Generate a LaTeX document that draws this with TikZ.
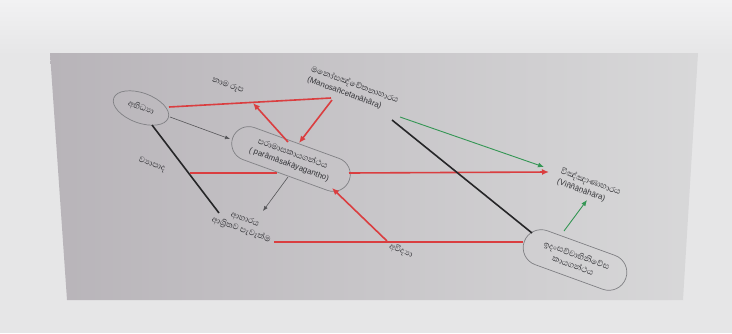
\documentclass[tikz,border=0pt]{standalone}
\usepackage{fontspec}
\setmainfont{Liberation Sans}
\newfontfamily\sinhalafont[Script=Sinhala,Scale=1.3]{Abhaya Libre}
\usetikzlibrary{arrows.meta,shapes.geometric,shapes.misc}
\definecolor{redc}{RGB}{218,62,64}
\definecolor{greenc}{RGB}{52,150,84}
\definecolor{blackc}{RGB}{38,38,40}
\definecolor{thinc}{RGB}{85,85,88}
\definecolor{edgec}{RGB}{128,128,132}
\definecolor{txtc}{RGB}{50,50,54}
\definecolor{outerbg}{RGB}{230,230,231}
\definecolor{outertop}{RGB}{242,242,243}
\definecolor{slideL}{RGB}{184,180,185}
\definecolor{slideM}{RGB}{206,205,207}
\definecolor{slideR}{RGB}{216,216,217}
\tikzset{
  lbl/.style={text=txtc, align=center, inner sep=1pt, rotate=-20,
    font=\fontsize{8}{11}\selectfont},
  bubble/.style={draw=edgec, line width=0.7pt, text=txtc, align=center,
    inner sep=1pt, font=\fontsize{8}{11}\selectfont},
  redline/.style={draw=redc, line width=1.6pt},
  redarrow/.style={redline, -{Latex[length=7pt,width=6pt]}},
  greenarrow/.style={draw=greenc, line width=0.9pt, -{Latex[length=6pt,width=5pt]}},
  blackline/.style={draw=blackc, line width=1.6pt},
  thinarrow/.style={draw=thinc, line width=0.6pt, -{Latex[length=5pt,width=4pt]}}
}
\begin{document}
\begin{tikzpicture}[x=1pt,y=-1pt]
\useasboundingbox (0,0) rectangle (732,333);
% photo background
\fill[outerbg] (0,0) rectangle (732,333);
\shade[top color=outertop, bottom color=outerbg] (0,0) rectangle (732,55);
% slide
\shade[left color=slideL, middle color=slideM, right color=slideR]
  (50,53) -- (698,53) -- (683,300) -- (67,300) -- cycle;

% nodes
\node[bubble, ellipse, minimum width=58pt, minimum height=30pt, rotate=-20]
  (abhi) at (141,108) {\sinhalafont අභිධ්‍යා};
\node[bubble, rounded rectangle, minimum width=126pt, minimum height=34pt, rotate=-20]
  (para) at (291,159) {\sinhalafont පරාමාසකායගන්ථය\\( parāmāsakāyagantho)};
\node[bubble, rounded rectangle, minimum width=110pt, minimum height=36pt, rotate=-20]
  (idam) at (575,260) {\sinhalafont ඉදංසච්චාභිනිවේස\\\sinhalafont කායගන්ථය};
\node[lbl] (nama) at (228,85) {\sinhalafont නාම රූප};
\node[lbl, align=left] (mano) at (353,90) {\sinhalafont මනෝසඤ්චේතනාහාරය\\(Manosañcetanāhāra)};
\node[lbl, align=left] (vinn) at (589,187) {\sinhalafont විඤ්ඤාණාහාරය\\(Viññāṇāhāra)};
\node[lbl] (vyap) at (152,165) {\sinhalafont ව්‍යාපාද};
\node[lbl] (ahar) at (243,225) {\sinhalafont ආහාරය\\\sinhalafont ආශ්‍රිතව පැවැත්ම};
\node[lbl] (avid) at (401,251) {\sinhalafont අවිද්‍යා};

% connector end points
\coordinate (abhiR) at (169,107);
\coordinate (manoL) at (331,98);
\coordinate (namaTip) at (253,103);
\coordinate (paraTop) at (288,142);
\coordinate (manoDown) at (332,100);
\coordinate (paraTopR) at (299,143);
\coordinate (abhiSE) at (170,117);
\coordinate (paraL) at (230,139);
\coordinate (abhiB) at (152,125);
\coordinate (aharTop) at (219,213);
\coordinate (vyapR) at (190,173);
\coordinate (paraBL) at (277,173);
\coordinate (paraR) at (349,173);
\coordinate (vinnL) at (549,172);
\coordinate (manoR) at (400,117);
\coordinate (vinnTL) at (544,167);
\coordinate (manoB) at (392,120);
\coordinate (idamTL) at (532,233);
\coordinate (idamT) at (564,231);
\coordinate (vinnB) at (587,200);
\coordinate (paraB) at (288,177);
\coordinate (aharTip) at (263,211);
\coordinate (aharR) at (274,242);
\coordinate (idamL) at (523,242);
\coordinate (avidTop) at (387,241);
\coordinate (paraBR) at (332,188);

% connectors
\draw[redline] (abhiR) -- (manoL);
\draw[redarrow] (paraTop) -- (namaTip);
\draw[redarrow] (manoDown) -- (paraTopR);
\draw[thinarrow] (abhiSE) -- (paraL);
\draw[blackline] (abhiB) -- (aharTop);
\draw[redline] (vyapR) -- (paraBL);
\draw[redarrow] (paraR) -- (vinnL);
\draw[greenarrow] (manoR) -- (vinnTL);
\draw[blackline] (manoB) -- (idamTL);
\draw[greenarrow] (idamT) -- (vinnB);
\draw[thinarrow] (paraB) -- (aharTip);
\draw[redline] (aharR) -- (idamL);
\draw[redarrow] (avidTop) -- (paraBR);
\end{tikzpicture}
\end{document}
